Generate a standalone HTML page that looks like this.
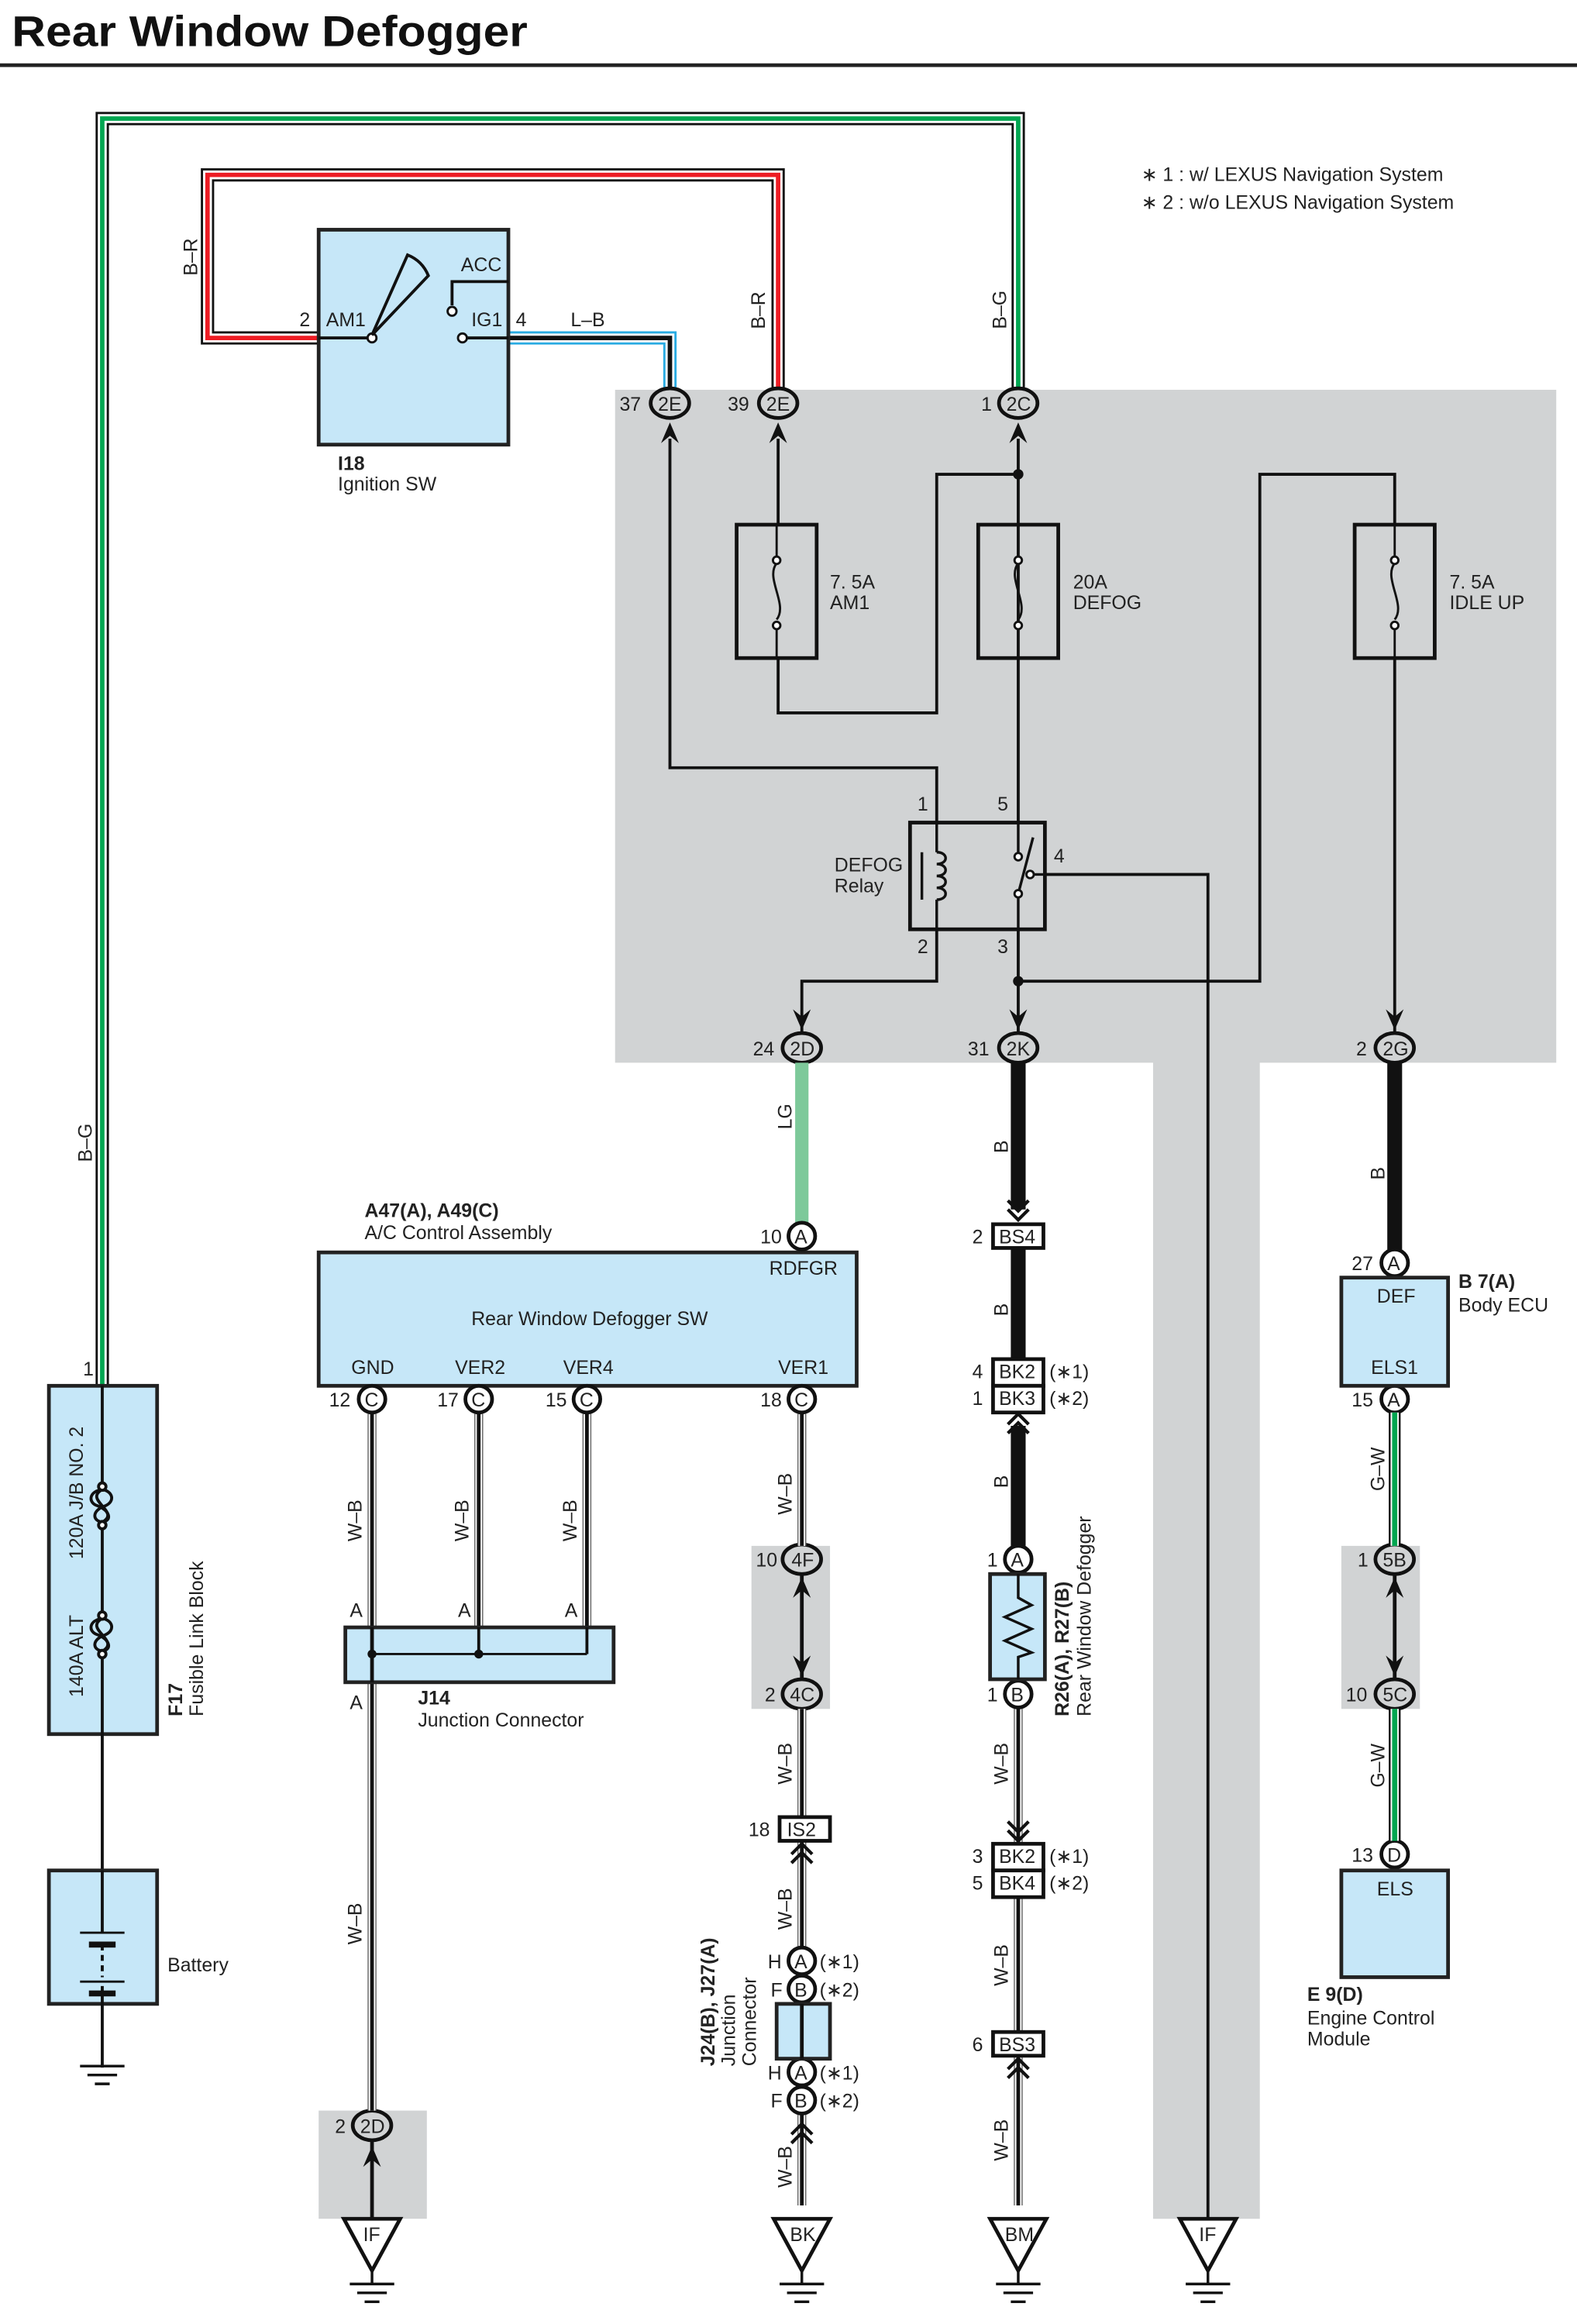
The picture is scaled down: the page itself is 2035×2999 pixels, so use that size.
<!DOCTYPE html>
<html><head><meta charset="utf-8"><style>
html,body{margin:0;padding:0;background:#fff}
svg{display:block}
text{font-family:"Liberation Sans",sans-serif;font-size:13px;fill:#222}
.b{font-weight:bold}
</style></head><body>
<svg width="2035" height="2999" viewBox="0 0 1064 1568" preserveAspectRatio="none" xmlns="http://www.w3.org/2000/svg">
<defs>
<g id="au"><path d="M-6 14 L0 0 L6 14 L0 9 Z" fill="#111"/></g>
<g id="ad"><path d="M-6 -14 L0 0 L6 -14 L0 -9 Z" fill="#111"/></g>
<g id="cu"><polyline points="-7,8 0,1 7,8" fill="none" stroke="#111" stroke-width="2.2"/><polyline points="-7,14 0,7 7,14" fill="none" stroke="#111" stroke-width="2.2"/></g>
<g id="cd"><polyline points="-7,-8 0,-1 7,-8" fill="none" stroke="#111" stroke-width="2.2"/><polyline points="-7,-14 0,-7 7,-14" fill="none" stroke="#111" stroke-width="2.2"/></g>
</defs>
<rect width="1064" height="1568" fill="#fff"/>
<text x="8" y="31" class="b" style="font-size:29px;fill:#111" textLength="348" lengthAdjust="spacingAndGlyphs">Rear Window Defogger</text>
<line x1="0" y1="44" x2="1064" y2="44" stroke="#222" stroke-width="2.5"/>

<polygon points="415,263 1050,263 1050,717 850,717 850,1497 778,1497 778,717 415,717" fill="#d1d3d4"/>
<rect x="507" y="1043" width="53" height="110" fill="#d1d3d4"/>
<rect x="905" y="1043" width="53" height="110" fill="#d1d3d4"/>
<rect x="215" y="1424" width="73" height="73" fill="#d1d3d4"/>

<text x="770" y="122">∗ 1 : w/ LEXUS Navigation System</text>
<text x="770" y="141">∗ 2 : w/o LEXUS Navigation System</text>

<g fill="none" stroke-linejoin="miter">
<polyline points="69,935 69,80 687,80 687,262" stroke="#111" stroke-width="9"/>
<polyline points="69,935 69,80 687,80 687,262" stroke="#fff" stroke-width="6"/>
<polyline points="69,935 69,80 687,80 687,262" stroke="#00a651" stroke-width="3"/>
<polyline points="215,228 140,228 140,118 525,118 525,262" stroke="#111" stroke-width="9"/>
<polyline points="215,228 140,228 140,118 525,118 525,262" stroke="#fff" stroke-width="6"/>
<polyline points="215,228 140,228 140,118 525,118 525,262" stroke="#ed1c24" stroke-width="3"/>
<polyline points="343,228 452,228 452,262" stroke="#29abe2" stroke-width="9"/>
<polyline points="343,228 452,228 452,262" stroke="#fff" stroke-width="6"/>
<polyline points="343,228 452,228 452,262" stroke="#111" stroke-width="3"/>
</g>
<text transform="translate(133,186) rotate(-90)">B–R</text>
<text transform="translate(516,222) rotate(-90)">B–R</text>
<text transform="translate(679,222) rotate(-90)">B–G</text>
<text transform="translate(62,784) rotate(-90)">B–G</text>
<text x="385" y="220">L–B</text>

<rect x="215" y="155" width="128" height="145" fill="#c6e7f8" stroke="#222" stroke-width="2.5"/>
<line x1="215" y1="228" x2="251" y2="228" stroke="#111" stroke-width="2"/>
<line x1="312" y1="228" x2="343" y2="228" stroke="#111" stroke-width="2"/>
<polyline points="305,206 305,190 343,190" fill="none" stroke="#111" stroke-width="2"/>
<circle cx="305" cy="210" r="3" fill="#fff" stroke="#111" stroke-width="1.5"/>
<circle cx="251" cy="228" r="3" fill="#fff" stroke="#111" stroke-width="1.5"/>
<circle cx="312" cy="228" r="3" fill="#fff" stroke="#111" stroke-width="1.5"/>
<path d="M251,226 L275,172 Q285,176 289,186 Z" fill="#c6e7f8" stroke="#111" stroke-width="2"/>
<text x="311" y="183">ACC</text>
<text x="202" y="220">2</text><text x="220" y="220">AM1</text>
<text x="318" y="220">IG1</text><text x="348" y="220">4</text>
<text x="228" y="317" class="b">I18</text>
<text x="228" y="331">Ignition SW</text>

<g fill="none" stroke="#111" stroke-width="2">
<polyline points="452,296 452,518 632,518 632,555"/>
<polyline points="525,296 525,354"/>
<polyline points="525,444 525,481 632,481 632,320 687,320"/>
<polyline points="687,296 687,555"/>
<polyline points="941,444 941,697"/>
<polyline points="941,354 941,320 850,320 850,662 687,662"/>
<polyline points="687,627 687,697"/>
<polyline points="632,627 632,662 541,662 541,697"/>
<polyline points="705,590 815,590 815,1497"/>
</g>
<circle cx="687" cy="320" r="3.5" fill="#111"/>
<circle cx="687" cy="662" r="3.5" fill="#111"/>

<g fill="none" stroke="#111">
<rect x="497" y="354" width="54" height="90" stroke-width="2.5"/>
<rect x="660" y="354" width="54" height="90" stroke-width="2.5"/>
<rect x="914" y="354" width="54" height="90" stroke-width="2.5"/>
<g stroke-width="1.5">
<path d="M524,380 C516,390 532,408 524,418"/><circle cx="524" cy="378" r="2.5" fill="#fff"/><circle cx="524" cy="422" r="2.5" fill="#fff"/>
<line x1="524" y1="354" x2="524" y2="376"/><line x1="524" y1="424" x2="524" y2="444"/>
<path d="M687,380 C679,390 695,408 687,418"/><circle cx="687" cy="378" r="2.5" fill="#fff"/><circle cx="687" cy="422" r="2.5" fill="#fff"/>
<line x1="687" y1="354" x2="687" y2="376"/><line x1="687" y1="424" x2="687" y2="444"/>
<path d="M941,380 C933,390 949,408 941,418"/><circle cx="941" cy="378" r="2.5" fill="#fff"/><circle cx="941" cy="422" r="2.5" fill="#fff"/>
<line x1="941" y1="354" x2="941" y2="376"/><line x1="941" y1="424" x2="941" y2="444"/>
</g></g>
<text x="560" y="397">7. 5A</text><text x="560" y="411">AM1</text>
<text x="724" y="397">20A</text><text x="724" y="411">DEFOG</text>
<text x="978" y="397">7. 5A</text><text x="978" y="411">IDLE UP</text>

<rect x="614" y="555" width="91" height="72" fill="none" stroke="#111" stroke-width="2.5"/>
<g fill="none" stroke="#111" stroke-width="1.8">
<polyline points="632,555 632,575"/><polyline points="632,607 632,627"/>
<path d="M632,575 c8,0 8,8 0,8 c8,0 8,8 0,8 c8,0 8,8 0,8 c8,0 8,8 0,8"/>
<line x1="622" y1="575" x2="622" y2="607"/>
<polyline points="687,555 687,576"/><polyline points="687,605 687,627"/>
<line x1="687" y1="603" x2="697" y2="565"/>
<polyline points="695,590 705,590"/>
</g>
<circle cx="687" cy="578" r="2.5" fill="#fff" stroke="#111" stroke-width="1.5"/>
<circle cx="687" cy="603" r="2.5" fill="#fff" stroke="#111" stroke-width="1.5"/>
<circle cx="695" cy="590" r="2.5" fill="#fff" stroke="#111" stroke-width="1.5"/>
<text x="619" y="547">1</text><text x="673" y="547">5</text>
<text x="619" y="643">2</text><text x="673" y="643">3</text><text x="711" y="582">4</text>
<text x="563" y="588">DEFOG</text><text x="563" y="602">Relay</text>

<g stroke="#111" stroke-width="2.5" fill="#d1d3d4">
<ellipse cx="452" cy="272" rx="13" ry="10"/>
<ellipse cx="525" cy="272" rx="13" ry="10"/>
<ellipse cx="687" cy="272" rx="13" ry="10"/>
<ellipse cx="541" cy="707" rx="13" ry="10"/>
<ellipse cx="687" cy="707" rx="13" ry="10"/>
<ellipse cx="941" cy="707" rx="13" ry="10"/>
<ellipse cx="541" cy="1052" rx="13" ry="10"/>
<ellipse cx="541" cy="1143" rx="13" ry="10"/>
<ellipse cx="941" cy="1052" rx="13" ry="10"/>
<ellipse cx="941" cy="1143" rx="13" ry="10"/>
<ellipse cx="251" cy="1434" rx="13" ry="10"/>
</g>
<g style="font-size:12px">
<text x="444" y="277">2E</text><text x="517" y="277">2E</text><text x="679" y="277">2C</text>
<text x="533" y="712">2D</text><text x="679" y="712">2K</text><text x="933" y="712">2G</text>
<text x="534" y="1057">4F</text><text x="533" y="1148">4C</text>
<text x="933" y="1057">5B</text><text x="933" y="1148">5C</text>
<text x="243" y="1439">2D</text>
</g>
<text x="418" y="277">37</text><text x="491" y="277">39</text><text x="662" y="277">1</text>
<text x="508" y="712">24</text><text x="653" y="712">31</text><text x="915" y="712">2</text>
<text x="510" y="1057">10</text><text x="516" y="1148">2</text>
<text x="916" y="1057">1</text><text x="908" y="1148">10</text>
<text x="226" y="1439">2</text>
<use href="#au" x="452" y="285"/><use href="#au" x="525" y="285"/><use href="#au" x="687" y="285"/>
<use href="#ad" x="541" y="695"/><use href="#ad" x="687" y="695"/><use href="#ad" x="941" y="695"/>

<line x1="541" y1="717" x2="541" y2="825" stroke="#7dc99a" stroke-width="9"/>
<text transform="translate(534,762) rotate(-90)">LG</text>

<rect x="215" y="845" width="363" height="90" fill="#c6e7f8" stroke="#222" stroke-width="2.5"/>
<text x="246" y="821" class="b">A47(A), A49(C)</text>
<text x="246" y="836">A/C Control Assembly</text>
<text x="318" y="894">Rear Window Defogger SW</text>
<text x="519" y="860">RDFGR</text>
<text x="237" y="927">GND</text><text x="307" y="927">VER2</text><text x="380" y="927">VER4</text><text x="525" y="927">VER1</text>

<g fill="none">
<g stroke="#666" stroke-width="6">
<line x1="251" y1="944" x2="251" y2="1098"/><line x1="323" y1="944" x2="323" y2="1098"/><line x1="396" y1="944" x2="396" y2="1098"/>
<line x1="251" y1="1135" x2="251" y2="1424"/>
<line x1="541" y1="944" x2="541" y2="1043"/><line x1="541" y1="1153" x2="541" y2="1488"/>
<line x1="687" y1="1143" x2="687" y2="1488"/>
</g>
<g stroke="#fff" stroke-width="4.5">
<line x1="251" y1="944" x2="251" y2="1098"/><line x1="323" y1="944" x2="323" y2="1098"/><line x1="396" y1="944" x2="396" y2="1098"/>
<line x1="251" y1="1135" x2="251" y2="1424"/>
<line x1="541" y1="944" x2="541" y2="1043"/><line x1="541" y1="1153" x2="541" y2="1488"/>
<line x1="687" y1="1143" x2="687" y2="1488"/>
</g>
<g stroke="#111" stroke-width="2.5">
<line x1="251" y1="944" x2="251" y2="1098"/><line x1="323" y1="944" x2="323" y2="1098"/><line x1="396" y1="944" x2="396" y2="1098"/>
<line x1="251" y1="1135" x2="251" y2="1424"/>
<line x1="541" y1="944" x2="541" y2="1043"/><line x1="541" y1="1153" x2="541" y2="1488"/>
<line x1="687" y1="1143" x2="687" y2="1488"/>
<line x1="251" y1="1444" x2="251" y2="1497"/>
<line x1="541" y1="1062" x2="541" y2="1133"/>
<line x1="941" y1="1062" x2="941" y2="1133"/>
</g>
</g>
<use href="#au" x="251" y="1448"/>
<use href="#au" x="541" y="1064"/><use href="#ad" x="541" y="1131"/>
<use href="#au" x="941" y="1064"/><use href="#ad" x="941" y="1131"/>
<g>
<text transform="translate(244,1040) rotate(-90)">W–B</text>
<text transform="translate(316,1040) rotate(-90)">W–B</text>
<text transform="translate(389,1040) rotate(-90)">W–B</text>
<text transform="translate(244,1312) rotate(-90)">W–B</text>
<text transform="translate(534,1022) rotate(-90)">W–B</text>
<text transform="translate(534,1204) rotate(-90)">W–B</text>
<text transform="translate(534,1302) rotate(-90)">W–B</text>
<text transform="translate(534,1476) rotate(-90)">W–B</text>
<text transform="translate(680,1204) rotate(-90)">W–B</text>
<text transform="translate(680,1340) rotate(-90)">W–B</text>
<text transform="translate(680,1458) rotate(-90)">W–B</text>
</g>

<rect x="233" y="1098" width="181" height="37" fill="#c6e7f8" stroke="#222" stroke-width="2.5"/>
<line x1="251" y1="1098" x2="251" y2="1135" stroke="#111" stroke-width="2.5"/>
<line x1="251" y1="1116" x2="396" y2="1116" stroke="#111" stroke-width="1.5"/>
<line x1="323" y1="1098" x2="323" y2="1116" stroke="#111" stroke-width="2"/>
<line x1="396" y1="1098" x2="396" y2="1116" stroke="#111" stroke-width="2"/>
<circle cx="251" cy="1116" r="3" fill="#111"/><circle cx="323" cy="1116" r="3" fill="#111"/>
<text x="236" y="1091">A</text><text x="309" y="1091">A</text><text x="381" y="1091">A</text><text x="236" y="1153">A</text>
<text x="282" y="1150" class="b">J14</text><text x="282" y="1165">Junction Connector</text>

<g stroke="#111" stroke-width="2.5" fill="#fff">
<circle cx="251" cy="944" r="9"/><circle cx="323" cy="944" r="9"/><circle cx="396" cy="944" r="9"/><circle cx="541" cy="944" r="9"/>
<circle cx="541" cy="834" r="9"/>
<circle cx="941" cy="852" r="9"/><circle cx="941" cy="944" r="9"/><circle cx="941" cy="1251" r="9"/>
<circle cx="687" cy="1052" r="9"/><circle cx="687" cy="1143" r="9"/>
<circle cx="541" cy="1323" r="9"/><circle cx="541" cy="1342" r="9"/><circle cx="541" cy="1398" r="9"/><circle cx="541" cy="1417" r="9"/>
</g>
<g style="font-size:12px">
<text x="246" y="949">C</text><text x="318" y="949">C</text><text x="391" y="949">C</text><text x="536" y="949">C</text>
<text x="536" y="839">A</text>
<text x="936" y="857">A</text><text x="936" y="949">A</text><text x="936" y="1256">D</text>
<text x="682" y="1057">A</text><text x="682" y="1148">B</text>
<text x="536" y="1328">A</text><text x="536" y="1347">B</text><text x="536" y="1403">A</text><text x="536" y="1422">B</text>
</g>
<text x="222" y="949">12</text><text x="295" y="949">17</text><text x="368" y="949">15</text><text x="513" y="949">18</text>
<text x="513" y="839">10</text>
<text x="912" y="857">27</text><text x="912" y="949">15</text><text x="912" y="1256">13</text>
<text x="666" y="1057">1</text><text x="666" y="1148">1</text>
<text x="518" y="1328">H</text><text x="520" y="1347">F</text><text x="518" y="1403">H</text><text x="520" y="1422">F</text>
<text x="553" y="1328">(∗1)</text><text x="553" y="1347">(∗2)</text><text x="553" y="1403">(∗1)</text><text x="553" y="1422">(∗2)</text>

<rect x="524" y="1352" width="36" height="37" fill="#c6e7f8" stroke="#222" stroke-width="2.5"/>
<line x1="541" y1="1352" x2="541" y2="1389" stroke="#111" stroke-width="2.5"/>
<text transform="translate(482,1394) rotate(-90)" class="b">J24(B), J27(A)</text>
<text transform="translate(496,1394) rotate(-90)">Junction</text>
<text transform="translate(510,1394) rotate(-90)">Connector</text>

<rect x="526" y="1226" width="34" height="16" fill="#fff" stroke="#111" stroke-width="2.5"/>
<text x="531" y="1239">IS2</text><text x="505" y="1239">18</text>
<use href="#cu" x="541" y="1243"/>

<g stroke="#111" stroke-width="10">
<line x1="687" y1="717" x2="687" y2="816"/>
<line x1="687" y1="842" x2="687" y2="917"/>
<line x1="687" y1="962" x2="687" y2="1043"/>
</g>
<use href="#cd" x="687" y="824"/>
<use href="#cu" x="687" y="953"/>
<text transform="translate(680,778) rotate(-90)">B</text>
<text transform="translate(680,888) rotate(-90)">B</text>
<text transform="translate(680,1004) rotate(-90)">B</text>
<g stroke="#111" stroke-width="2.5" fill="#fff">
<rect x="670" y="826" width="34" height="16"/>
<rect x="670" y="917" width="34" height="18"/><rect x="670" y="935" width="34" height="18"/>
<rect x="670" y="1244" width="34" height="18"/><rect x="670" y="1262" width="34" height="18"/>
<rect x="670" y="1371" width="34" height="16"/>
</g>
<text x="674" y="839">BS4</text><text x="656" y="839">2</text>
<text x="674" y="930">BK2</text><text x="674" y="948">BK3</text><text x="656" y="930">4</text><text x="656" y="948">1</text>
<text x="708" y="930">(∗1)</text><text x="708" y="948">(∗2)</text>
<text x="674" y="1257">BK2</text><text x="674" y="1275">BK4</text><text x="656" y="1257">3</text><text x="656" y="1275">5</text>
<text x="708" y="1257">(∗1)</text><text x="708" y="1275">(∗2)</text>
<text x="674" y="1384">BS3</text><text x="656" y="1384">6</text>
<use href="#cd" x="687" y="1243"/>
<use href="#cu" x="687" y="1388"/>

<rect x="668" y="1062" width="37" height="71" fill="#c6e7f8" stroke="#222" stroke-width="2.5"/>
<polyline points="687,1062 687,1078 696,1083 678,1091 696,1099 678,1107 696,1115 687,1118 687,1133" fill="none" stroke="#111" stroke-width="1.8"/>
<text transform="translate(721,1158) rotate(-90)" class="b">R26(A), R27(B)</text>
<text transform="translate(736,1158) rotate(-90)">Rear Window Defogger</text>

<line x1="941" y1="717" x2="941" y2="843" stroke="#111" stroke-width="10"/>
<text transform="translate(934,796) rotate(-90)">B</text>
<rect x="905" y="862" width="72" height="73" fill="#c6e7f8" stroke="#222" stroke-width="2.5"/>
<text x="929" y="879">DEF</text><text x="925" y="927">ELS1</text>
<text x="984" y="869" class="b">B 7(A)</text><text x="984" y="885">Body ECU</text>
<g fill="none">
<line x1="941" y1="953" x2="941" y2="1043" stroke="#111" stroke-width="8"/>
<line x1="941" y1="953" x2="941" y2="1043" stroke="#fff" stroke-width="5.5"/>
<line x1="941" y1="953" x2="941" y2="1043" stroke="#00a651" stroke-width="3.5"/>
<line x1="941" y1="1153" x2="941" y2="1242" stroke="#111" stroke-width="8"/>
<line x1="941" y1="1153" x2="941" y2="1242" stroke="#fff" stroke-width="5.5"/>
<line x1="941" y1="1153" x2="941" y2="1242" stroke="#00a651" stroke-width="3.5"/>
</g>
<text transform="translate(934,1006) rotate(-90)">G–W</text>
<text transform="translate(934,1206) rotate(-90)">G–W</text>
<rect x="905" y="1262" width="72" height="72" fill="#c6e7f8" stroke="#222" stroke-width="2.5"/>
<text x="929" y="1279">ELS</text>
<text x="882" y="1350" class="b">E 9(D)</text><text x="882" y="1366">Engine Control</text><text x="882" y="1380">Module</text>

<rect x="33" y="935" width="73" height="235" fill="#c6e7f8" stroke="#222" stroke-width="2.5"/>
<line x1="69" y1="935" x2="69" y2="1003" stroke="#111" stroke-width="2"/>
<line x1="69" y1="1029" x2="69" y2="1090" stroke="#111" stroke-width="2"/>
<line x1="69" y1="1116" x2="69" y2="1262" stroke="#111" stroke-width="2"/>
<g fill="none" stroke="#111" stroke-width="2">
<path d="M69,1005 C56,1012 82,1020 69,1027"/><path d="M69,1005 C60,1006 59,1014 66,1016 C74,1019 76,1026 69,1027"/><path d="M69,1005 C76,1006 78,1013 71,1016 C62,1019 62,1026 69,1027"/>
<path d="M69,1092 C56,1099 82,1107 69,1114"/><path d="M69,1092 C60,1093 59,1101 66,1103 C74,1106 76,1113 69,1114"/><path d="M69,1092 C76,1093 78,1100 71,1103 C62,1106 62,1113 69,1114"/>
<circle cx="69" cy="1003" r="2.5" fill="#fff"/><circle cx="69" cy="1029" r="2.5" fill="#fff"/>
<circle cx="69" cy="1090" r="2.5" fill="#fff"/><circle cx="69" cy="1116" r="2.5" fill="#fff"/>
</g>
<text x="56" y="928">1</text>
<text transform="translate(56,1052) rotate(-90)">120A J/B NO. 2</text>
<text transform="translate(56,1145) rotate(-90)">140A ALT</text>
<text transform="translate(123,1158) rotate(-90)" class="b">F17</text>
<text transform="translate(137,1158) rotate(-90)">Fusible Link Block</text>

<rect x="33" y="1262" width="73" height="90" fill="#c6e7f8" stroke="#222" stroke-width="2.5"/>
<line x1="69" y1="1262" x2="69" y2="1304" stroke="#111" stroke-width="2"/>
<line x1="69" y1="1340" x2="69" y2="1395" stroke="#111" stroke-width="2"/>
<line x1="69" y1="1312" x2="69" y2="1334" stroke="#111" stroke-width="2" stroke-dasharray="4,3"/>
<line x1="54" y1="1304" x2="84" y2="1304" stroke="#111" stroke-width="1.5"/>
<line x1="60" y1="1312" x2="78" y2="1312" stroke="#111" stroke-width="4"/>
<line x1="54" y1="1337" x2="84" y2="1337" stroke="#111" stroke-width="1.5"/>
<line x1="60" y1="1345" x2="78" y2="1345" stroke="#111" stroke-width="4"/>
<text x="113" y="1330">Battery</text>
<g stroke="#111" stroke-width="1.8">
<line x1="54" y1="1394" x2="84" y2="1394"/><line x1="59" y1="1400" x2="79" y2="1400"/><line x1="64" y1="1406" x2="74" y2="1406"/>
</g>

<g fill="#fff" stroke="#111" stroke-width="2.5">
<polygon points="232,1497 270,1497 251,1532"/>
<polygon points="522,1497 560,1497 541,1532"/>
<polygon points="668,1497 706,1497 687,1532"/>
<polygon points="796,1497 834,1497 815,1532"/>
</g>
<g stroke="#111" stroke-width="1.8">
<line x1="251" y1="1532" x2="251" y2="1541"/><line x1="236" y1="1541" x2="266" y2="1541"/><line x1="241" y1="1547" x2="261" y2="1547"/><line x1="246" y1="1553" x2="256" y2="1553"/>
<line x1="541" y1="1532" x2="541" y2="1541"/><line x1="526" y1="1541" x2="556" y2="1541"/><line x1="531" y1="1547" x2="551" y2="1547"/><line x1="536" y1="1553" x2="546" y2="1553"/>
<line x1="687" y1="1532" x2="687" y2="1541"/><line x1="672" y1="1541" x2="702" y2="1541"/><line x1="677" y1="1547" x2="697" y2="1547"/><line x1="682" y1="1553" x2="692" y2="1553"/>
<line x1="815" y1="1532" x2="815" y2="1541"/><line x1="800" y1="1541" x2="830" y2="1541"/><line x1="805" y1="1547" x2="825" y2="1547"/><line x1="810" y1="1553" x2="820" y2="1553"/>
</g>
<text x="245" y="1512">IF</text><text x="533" y="1512">BK</text><text x="678" y="1512">BM</text><text x="809" y="1512">IF</text>
<use href="#cu" x="541" y="1432"/>
</svg>
</body></html>
